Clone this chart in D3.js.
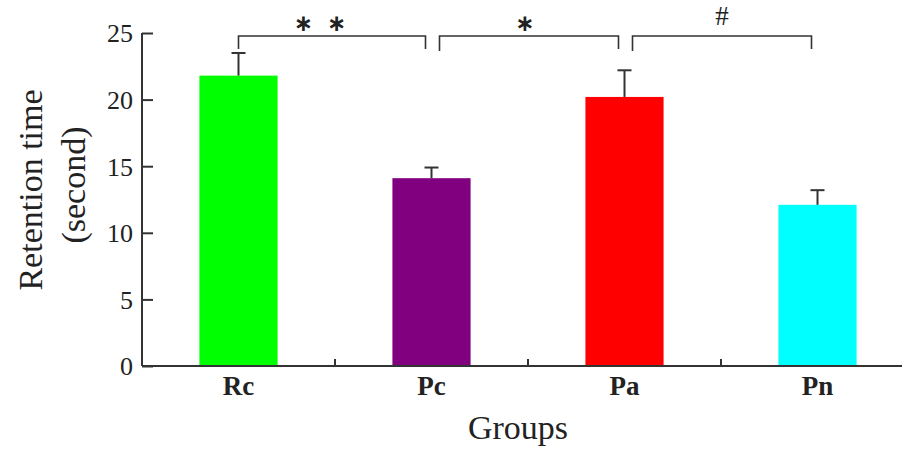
<!DOCTYPE html>
<html>
<head>
<meta charset="utf-8">
<script src="https://cdn.jsdelivr.net/npm/d3@7"></script>
<style>
  html, body { margin: 0; padding: 0; background: #fff; }
  svg { display: block; }
  text { font-family: "Liberation Serif", "DejaVu Serif", serif; fill: #222; }
</style>
</head>
<body>
<svg id="chart" width="902" height="450"></svg>
<script>
// Retention time per group: mean and upper error (SE)
const groups = ["Rc", "Pc", "Pa", "Pn"];
const means = [21.8, 14.1, 20.2, 12.1];
const errors = [1.7, 0.8, 2.0, 1.1];
const barColors = ["#00ff00", "#800080", "#ff0000", "#00ffff"];
const yTicks = [0, 5, 10, 15, 20, 25];

// Significance brackets between neighbouring groups
const sigPairs = [["Rc", "Pc"], ["Pc", "Pa"], ["Pa", "Pn"]];
const sigLabels = ["\u2217 \u2217", "\u2217", "#"];

const svg = d3.select("#chart");
const axisColor = "#333";

const x = d3.scaleBand().domain(groups).range([142, 914]).padding(0);
const y = d3.scaleLinear().domain([0, 25]).range([366, 33]);
const barW = x.bandwidth() * 0.405;
const cx = g => x(g) + x.bandwidth() / 2;

// Bars
svg.append("g").selectAll("rect")
  .data(groups)
  .join("rect")
  .attr("x", g => cx(g) - barW / 2)
  .attr("width", barW)
  .attr("y", (g, i) => y(means[i]))
  .attr("height", (g, i) => y(0) - y(means[i]))
  .attr("fill", (g, i) => barColors[i]);

// Error bars (upper only)
const eb = svg.append("g").attr("stroke", axisColor).attr("stroke-width", 2);
groups.forEach((g, i) => {
  eb.append("line")
    .attr("x1", cx(g)).attr("x2", cx(g))
    .attr("y1", y(means[i])).attr("y2", y(means[i] + errors[i]));
  eb.append("line")
    .attr("x1", cx(g) - 7).attr("x2", cx(g) + 7)
    .attr("y1", y(means[i] + errors[i])).attr("y2", y(means[i] + errors[i]));
});

// Y axis
const yAxis = svg.append("g")
  .attr("transform", "translate(142,0)")
  .call(d3.axisRight(y).tickValues(yTicks).tickSize(11).tickFormat(d3.format("d")));
yAxis.select(".domain").attr("stroke", axisColor).attr("stroke-width", 2).attr("d", `M0,${y(25)}V${y(0)}`);
yAxis.selectAll(".tick line").attr("stroke", axisColor).attr("stroke-width", 2);
yAxis.selectAll(".tick text")
  .attr("x", -9).attr("text-anchor", "end").attr("dy", "0.34em")
  .style("font-size", "26px").style("font-family", "'Liberation Serif', serif").attr("fill", "#222");

// X axis with separators between groups
const xAxis = svg.append("g").attr("transform", `translate(0,${y(0)})`);
xAxis.append("line")
  .attr("x1", 142).attr("x2", 902).attr("y1", 0).attr("y2", 0)
  .attr("stroke", axisColor).attr("stroke-width", 2);
xAxis.selectAll("line.sep")
  .data(groups.slice(1))
  .join("line")
  .attr("class", "sep")
  .attr("x1", g => x(g)).attr("x2", g => x(g))
  .attr("y1", 0).attr("y2", -7)
  .attr("stroke", axisColor).attr("stroke-width", 2);
xAxis.selectAll("text")
  .data(groups)
  .join("text")
  .attr("x", g => cx(g)).attr("y", 29)
  .attr("text-anchor", "middle")
  .style("font-size", "27px").style("font-weight", "bold")
  .text(g => g);

// Significance brackets
const bracketY = 36;
const labelShift = [-12, -4, 0];
const sg = svg.append("g").attr("fill", "none").attr("stroke", axisColor).attr("stroke-width", 1.6);
sigPairs.forEach(([a, b], i) => {
  const x1 = i === 0 ? cx(a) : cx(a) + 8;
  const x2 = cx(b) - 6;
  const dropL = i === 0 ? 13 : 15;
  sg.append("path")
    .attr("d", `M${x1},${bracketY + dropL}V${bracketY}H${x2}V${bracketY + 13}`);
  const label = svg.append("text")
    .attr("x", (x1 + x2) / 2 + labelShift[i])
    .attr("text-anchor", "middle")
    .text(sigLabels[i]);
  if (i === 2) {
    label.attr("y", 25).style("font-size", "27px");
  } else {
    label.attr("y", 31)
      .style("font-family", "'DejaVu Sans', sans-serif")
      .style("font-weight", "bold")
      .style("font-size", "23px")
      .style("word-spacing", "6px");
  }
});

// Axis titles
svg.append("text")
  .attr("transform", "translate(42,190) rotate(-90)")
  .attr("text-anchor", "middle")
  .style("font-size", "34px")
  .text("Retention time");
svg.append("text")
  .attr("transform", "translate(85,185) rotate(-90)")
  .attr("text-anchor", "middle")
  .style("font-size", "34px")
  .text("(second)");
svg.append("text")
  .attr("x", 518).attr("y", 439)
  .attr("text-anchor", "middle")
  .style("font-size", "34px")
  .text("Groups");
</script>
</body>
</html>
